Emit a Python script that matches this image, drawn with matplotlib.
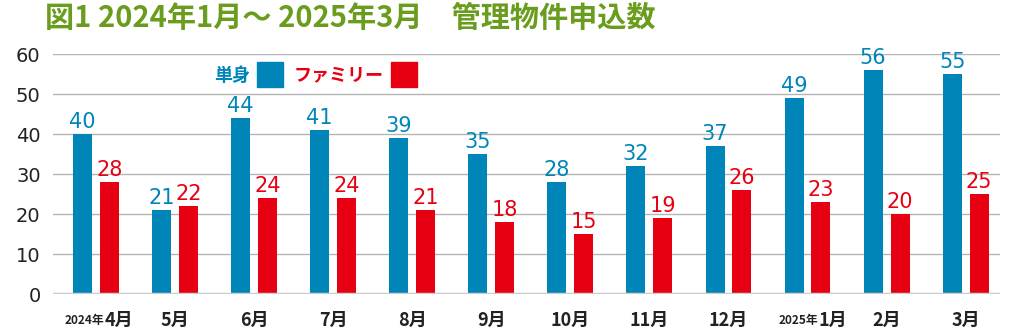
import matplotlib.pyplot as plt
import matplotlib.patches as mpatches
import numpy as np

plt.rcParams['font.family'] = ['Noto Sans CJK JP', 'DejaVu Sans']

prefixes = ["2024年", "", "", "", "", "", "", "", "", "2025年", "", ""]
months = ["4月", "5月", "6月", "7月", "8月", "9月", "10月", "11月", "12月", "1月", "2月", "3月"]
single = [40, 21, 44, 41, 39, 35, 28, 32, 37, 49, 56, 55]
family = [28, 22, 24, 24, 21, 18, 15, 19, 26, 23, 20, 25]

blue = "#0085b8"
red = "#e60012"
green = "#6a9c1e"
dark = "#222222"

fig = plt.figure(figsize=(10.24, 3.3), dpi=100)
ax = fig.add_axes([0.052, 0.109, 0.925, 0.727])

x = np.arange(len(months))
w = 0.24
off = 0.17
b1 = ax.bar(x - off, single, w, color=blue, zorder=3)
b2 = ax.bar(x + off, family, w, color=red, zorder=3)

for rect, v in zip(b1, single):
    ax.annotate(str(v), (rect.get_x() + rect.get_width() / 2, v), xytext=(0, 1.5),
                textcoords="offset points", ha="center", va="bottom",
                fontsize=15, color=blue, family="DejaVu Sans")
for rect, v in zip(b2, family):
    ax.annotate(str(v), (rect.get_x() + rect.get_width() / 2, v), xytext=(0, 1.5),
                textcoords="offset points", ha="center", va="bottom",
                fontsize=15, color=red, family="DejaVu Sans")

ax.set_ylim(0, 60)
ax.set_xlim(-0.54, 11.44)
ax.set_yticks(range(0, 61, 10))
ax.set_yticklabels([str(v) for v in range(0, 61, 10)], family="DejaVu Sans")
for yy in range(10, 61, 10):
    ax.axhline(yy, color="#b4b4b4", lw=1, zorder=1)
ax.axhline(0, color="#cccccc", lw=2.5, zorder=4)
for s in ax.spines.values():
    s.set_visible(False)
ax.tick_params(axis="y", length=0, labelsize=14, pad=9, labelcolor=dark)
ax.tick_params(axis="x", length=0, labelbottom=False)

for i, (p, m) in enumerate(zip(prefixes, months)):
    if p:
        sh = 6 if i == 0 else 8
        ax.annotate(p, (i, 0), xytext=(sh, -19), textcoords="offset points",
                    ha="right", va="center", fontsize=8.5, fontweight="bold", color=dark)
        ax.annotate(m, (i, 0), xytext=(sh, -19), textcoords="offset points",
                    ha="left", va="center", fontsize=13, fontweight="bold", color=dark)
    else:
        ax.annotate(m, (i, 0), xytext=(0, -19), textcoords="offset points",
                    ha="center", va="center", fontsize=13, fontweight="bold", color=dark)

# legend drawn by hand
fig.text(250 / 1024, 1 - 75 / 330, "単身", ha="right", va="center",
         fontsize=13, fontweight="bold", color=blue)
fig.patches.append(mpatches.Rectangle((257 / 1024, 1 - 87 / 330), 26 / 1024, 25 / 330,
                                      transform=fig.transFigure, color=blue, figure=fig))
fig.text(384 / 1024, 1 - 75 / 330, "ファミリー", ha="right", va="center",
         fontsize=13, fontweight="bold", color=red)
fig.patches.append(mpatches.Rectangle((391 / 1024, 1 - 87 / 330), 26 / 1024, 25 / 330,
                                      transform=fig.transFigure, color=red, figure=fig))

fig.text(45 / 1024, 1 - 18 / 330, "図1 2024年1月～ 2025年3月　管理物件申込数",
         ha="left", va="center", fontsize=21, fontweight="bold", color=green)

fig.savefig("out.png", dpi=100)
